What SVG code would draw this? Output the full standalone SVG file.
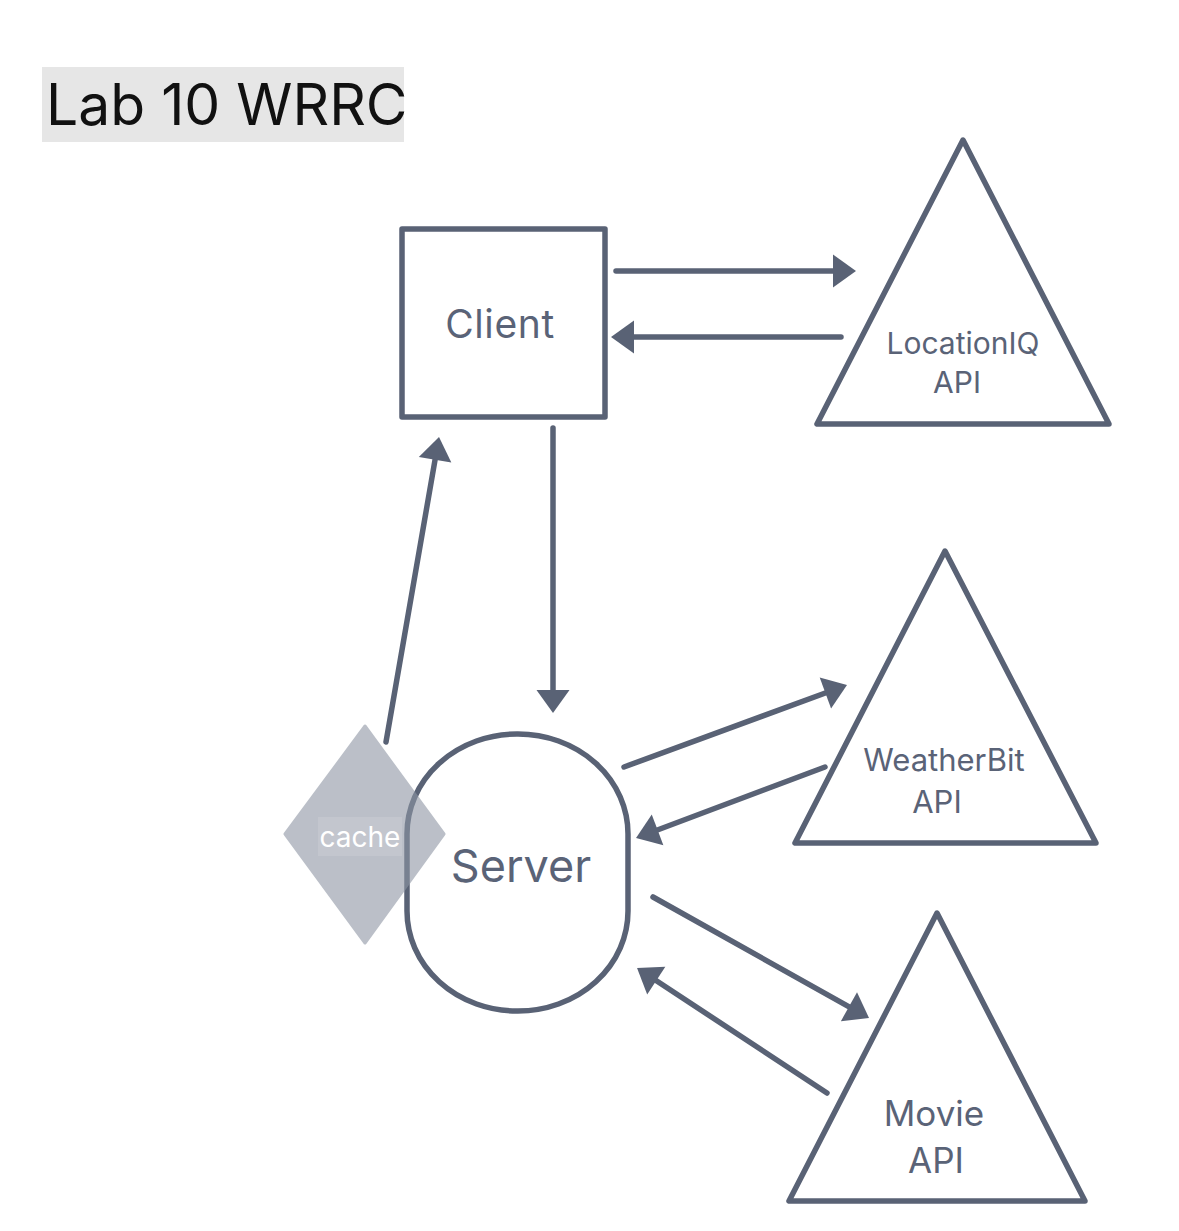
<svg xmlns="http://www.w3.org/2000/svg" width="1179" height="1231" viewBox="0 0 1179 1231">
<style>
.shape{fill:#fff;stroke:#596275;stroke-width:5.5;stroke-linejoin:round}
.lbl{font-family:Inter,"Noto Sans","Liberation Sans",sans-serif;fill:#5a6377;text-anchor:middle}
.conn{stroke:#596275;stroke-width:5.5;stroke-linecap:round;fill:none;marker-end:url(#ah)}
</style>
<defs>
<marker id="ah" markerUnits="userSpaceOnUse" markerWidth="24" markerHeight="34" viewBox="0 0 23 34" refX="13" refY="17" orient="auto">
<path d="M0,0.5 L23,17 L0,33.5 z" fill="#596275"/>
</marker>
</defs>
<rect width="1179" height="1231" fill="#fff"/>
<g id="title">
<rect x="42" y="67" width="362" height="75" fill="#e6e6e6"/>
<text x="46" y="125" font-family="Inter,'Noto Sans','Liberation Sans',sans-serif" font-size="57" fill="#111">Lab 10 WRRC</text>
</g>
<g id="client">
<rect class="shape" x="402" y="229" width="203" height="188"/>
<text class="lbl" x="500" y="338" font-size="39" letter-spacing="0.6">Client</text>
</g>
<g id="locationiq">
<polygon class="shape" points="963,140 817,424 1109,424"/>
<text class="lbl" x="963" y="354" font-size="30">LocationIQ</text>
<text class="lbl" x="957" y="393" font-size="30">API</text>
</g>
<g id="server">
<rect class="shape" x="407" y="734" width="221" height="277" rx="110" ry="100"/>
<text class="lbl" x="521" y="882" font-size="45">Server</text>
</g>
<g id="cache">
<g opacity="0.6">
<path d="M365,726 L444,834 L365,943 L285,834 Z" fill="#8e96a4" stroke="#8e96a4" stroke-width="3" stroke-linejoin="round"/>
</g>
<rect x="318" y="817" width="84" height="39" fill="#ffffff" fill-opacity="0.12"/>
<text x="360" y="847" font-family="Inter,'Noto Sans','Liberation Sans',sans-serif" font-size="28" fill="#fff" text-anchor="middle">cache</text>
</g>
<g id="weatherbit">
<polygon class="shape" points="945,551 795,843 1096,843"/>
<text class="lbl" x="944" y="771" font-size="31">WeatherBit</text>
<text class="lbl" x="937" y="813" font-size="31">API</text>
</g>
<g id="movie">
<polygon class="shape" points="937,913 789,1201 1085,1201"/>
<text class="lbl" x="934" y="1126" font-size="35">Movie</text>
<text class="lbl" x="936" y="1173" font-size="35">API</text>
</g>
<g id="connectors">
<line class="conn" x1="616" y1="271" x2="846" y2="271"/>
<line class="conn" x1="841" y1="337" x2="621" y2="337"/>
<line class="conn" x1="553" y1="428" x2="553" y2="703"/>
<line class="conn" x1="386" y1="742" x2="437.3" y2="446.9"/>
<line class="conn" x1="624" y1="767" x2="837.6" y2="688.5"/>
<line class="conn" x1="825" y1="767" x2="645.4" y2="834.5"/>
<line class="conn" x1="653" y1="897" x2="860.3" y2="1013.1"/>
<line class="conn" x1="827" y1="1093" x2="645.4" y2="973.5"/>
</g>
</svg>
